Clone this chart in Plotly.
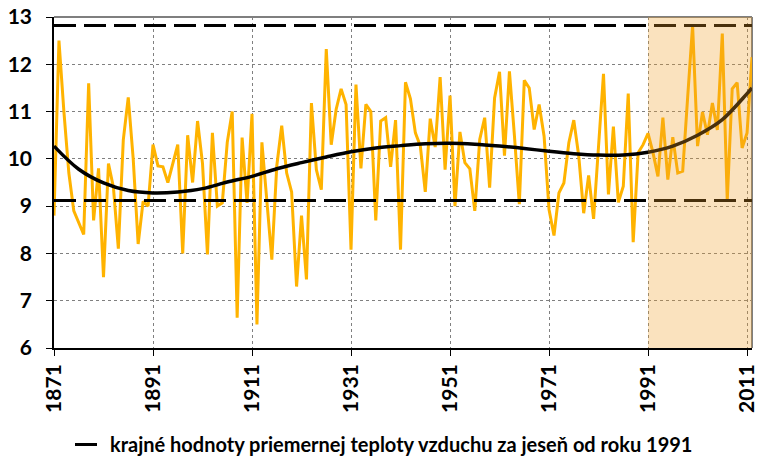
import plotly.graph_objects as go

years = list(range(1871, 2013))
temps = [
    8.8, 12.5, 11.0, 9.7, 8.9, 8.65, 8.4, 11.6, 8.7, 9.8,
    7.5, 9.9, 9.4, 8.1, 10.4, 11.3, 10.0, 8.2, 9.1, 9.0,
    10.3, 9.85, 9.83, 9.5, 9.9, 10.3, 8.0, 10.5, 9.5, 10.8,
    9.9, 7.98, 10.55, 9.0, 9.07, 10.35, 11.0, 6.64, 10.45, 9.07,
    10.95, 6.5, 10.35, 9.1, 7.87, 9.85, 10.7, 9.7, 9.3, 7.3,
    8.8, 7.45, 11.18, 9.77, 9.35, 12.32, 10.3, 11.05, 11.48, 11.15,
    8.08, 11.57, 9.8, 11.15, 11.0, 8.7, 10.8, 10.87, 9.83, 10.82,
    8.08, 11.62, 11.27, 10.55, 10.27, 9.3, 10.85, 10.25, 11.73, 9.77,
    11.34, 9.0, 10.57, 9.92, 9.79, 8.9, 10.41, 10.87, 9.39, 11.29,
    11.84, 10.07, 11.85, 10.5, 9.04, 11.66, 11.5, 10.62, 11.15, 10.48,
    8.93, 8.38, 9.28, 9.49, 10.34, 10.82, 10.06, 8.85, 9.65, 8.73,
    10.37, 11.8, 9.25, 10.68, 9.08, 9.42, 11.38, 8.24, 10.13, 10.3,
    10.54, 10.13, 9.63, 10.87, 9.56, 10.46, 9.7, 9.74, 11.3, 12.82,
    10.27, 10.99, 10.51, 11.18, 10.61, 12.65, 9.12, 11.48, 11.61, 10.23,
    10.55, 12.15,
]
# polynomial trend curve
trend_years = [1871, 1876, 1881, 1886, 1891, 1896, 1901, 1906, 1911, 1916,
               1921, 1926, 1931, 1936, 1941, 1946, 1951, 1956, 1961, 1966,
               1971, 1976, 1981, 1986, 1991, 1996, 2001, 2006, 2011, 2012]
trend_vals = [10.27, 9.78, 9.49, 9.33, 9.28, 9.30, 9.37, 9.51, 9.63, 9.79,
              9.92, 10.04, 10.15, 10.23, 10.28, 10.32, 10.33, 10.31, 10.27, 10.22,
              10.16, 10.11, 10.08, 10.08, 10.14, 10.27, 10.50, 10.83, 11.38, 11.50]
x_ticks = [1871, 1891, 1911, 1931, 1951, 1971, 1991, 2011]
ref_start = 1991
legend_label = "krajné hodnoty priemernej teploty vzduchu za jeseň od roku 1991"

recent = [t for y, t in zip(years, temps) if y >= ref_start]
t_max, t_min = max(recent), min(recent)

FONT = "Lato"
fig = go.Figure()

fig.add_trace(go.Scatter(x=years, y=temps, mode="lines",
                         line=dict(color="#FFB300", width=3),
                         showlegend=False, hoverinfo="skip"))
fig.add_trace(go.Scatter(x=trend_years, y=trend_vals, mode="lines",
                         line=dict(color="#000000", width=3.5, shape="spline", smoothing=1.0),
                         showlegend=False, hoverinfo="skip"))
fig.add_trace(go.Scatter(x=[years[0], years[-1]], y=[t_max, t_max], mode="lines",
                         line=dict(color="#000000", width=3, dash="22px,8px"),
                         name=legend_label, showlegend=True))
fig.add_trace(go.Scatter(x=[years[0], years[-1]], y=[t_min, t_min], mode="lines",
                         line=dict(color="#000000", width=3, dash="22px,8px"),
                         showlegend=False))

# plot border (top and right)
fig.add_shape(type="line", xref="paper", yref="paper", x0=0, x1=1, y0=1, y1=1,
              line=dict(color="#555555", width=1.5), layer="below")
fig.add_shape(type="line", xref="paper", yref="paper", x0=1, x1=1, y0=0, y1=1,
              line=dict(color="#7f7f7f", width=2), layer="below")
# shaded period since 1991 (overlaid semi-transparent)
fig.add_shape(type="rect", xref="x", yref="y", x0=ref_start, x1=years[-1], y0=6, y1=13,
              fillcolor="rgb(240,160,40)", opacity=0.3, line=dict(width=0), layer="above")

fig.update_layout(
    width=758, height=464,
    margin=dict(l=54, r=6, t=17, b=116, autoexpand=False),
    paper_bgcolor="white", plot_bgcolor="white",
    font=dict(family=FONT, color="#000000", weight="bold"),
    legend=dict(orientation="h", x=70 / 758, xanchor="left", xref="container",
                y=-0.012, yanchor="bottom", yref="container",
                font=dict(family=FONT, size=20, weight="bold")),
    showlegend=True,
)
fig.update_xaxes(range=[years[0], years[-1]], tickvals=x_ticks, ticktext=[str(v) for v in x_ticks],
                 tickangle=-90, tickfont=dict(family=FONT, size=21, weight="bold"),
                 showline=True, linecolor="#000000", linewidth=1.5,
                 ticks="outside", ticklen=6, tickcolor="#000000",
                 showgrid=True, gridcolor="#808080", griddash="dot", gridwidth=1,
                 zeroline=False, automargin=False)
fig.update_yaxes(range=[6, 13], dtick=1, tick0=6,
                 tickfont=dict(family=FONT, size=21, weight="bold"),
                 ticklabelstandoff=10,
                 showline=True, linecolor="#000000", linewidth=1.5,
                 ticks="outside", ticklen=6, tickcolor="#000000",
                 showgrid=True, gridcolor="#808080", griddash="dot", gridwidth=1,
                 zeroline=False, automargin=False)

fig.write_html("out.html", config={"displayModeBar": False},
               post_script="document.body.style.margin='0px';document.body.style.overflow='hidden';")
